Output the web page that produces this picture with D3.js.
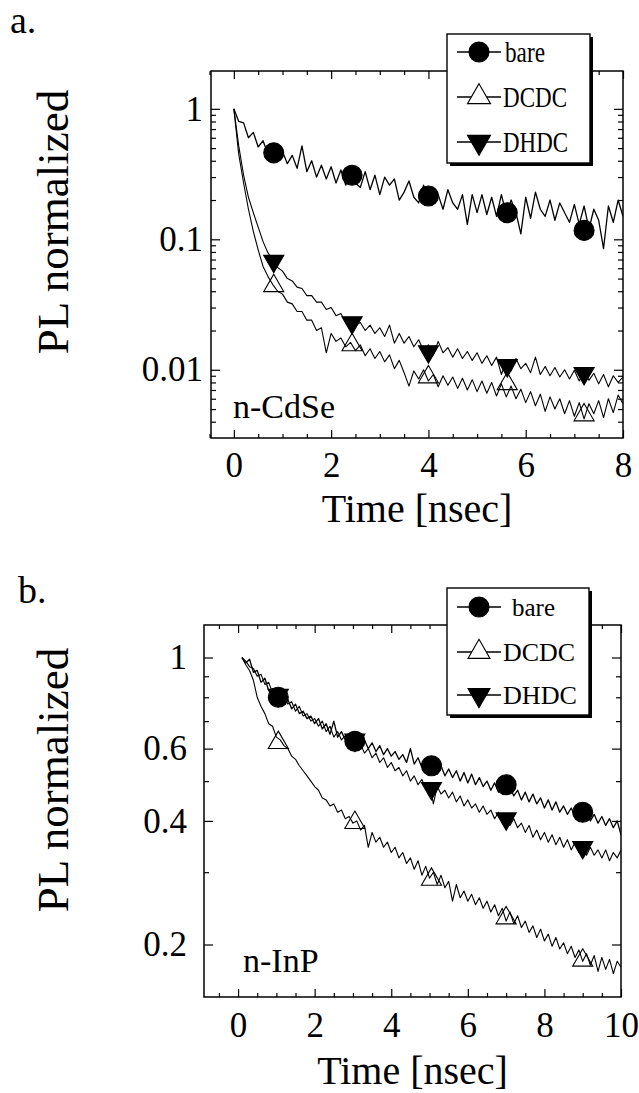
<!DOCTYPE html>
<html>
<head>
<meta charset="utf-8">
<script src="https://cdn.jsdelivr.net/npm/d3@7"></script>
<style>
  body { margin: 0; background: #fff; }
  svg text { font-family: "Liberation Serif", "Times New Roman", serif; fill: #000; }
</style>
</head>
<body>
<div id="chart"></div>
<script>
// ---- data ----
const seriesNames = ["bare", "DCDC", "DHDC"];

// panel a: n-CdSe, time in ns
const timeTop = [0,0.1,0.2,0.3,0.4,0.5,0.6,0.7,0.8,0.9,1,1.1,1.2,1.3,1.4,1.5,1.6,1.7,1.8,1.9,
  2,2.1,2.2,2.3,2.4,2.5,2.6,2.7,2.8,2.9,3,3.1,3.2,3.3,3.4,3.5,3.6,3.7,3.8,3.9,
  4,4.1,4.2,4.3,4.4,4.5,4.6,4.7,4.8,4.9,5,5.1,5.2,5.3,5.4,5.5,5.6,5.7,5.8,5.9,
  6,6.1,6.2,6.3,6.4,6.5,6.6,6.7,6.8,6.9,7,7.1,7.2,7.3,7.4,7.5,7.6,7.7,7.8,7.9,8];
const bareTop = [1.0,0.80,0.78,0.60,0.66,0.51,0.57,0.45,0.50,0.42,
  0.47,0.38,0.44,0.35,0.52,0.33,0.40,0.30,0.37,0.29,
  0.36,0.27,0.34,0.26,0.33,0.27,0.25,0.33,0.24,0.31,
  0.22,0.30,0.26,0.29,0.20,0.23,0.28,0.21,0.19,0.26,
  0.20,0.25,0.22,0.17,0.24,0.19,0.17,0.22,0.13,0.22,
  0.16,0.22,0.155,0.21,0.15,0.22,0.155,0.20,0.16,0.11,
  0.21,0.145,0.23,0.17,0.15,0.20,0.14,0.19,0.16,0.135,
  0.185,0.13,0.18,0.12,0.17,0.14,0.085,0.18,0.135,0.20,
  0.15];
const dcdcTop = [1.0,0.45,0.27,0.17,0.115,0.083,0.062,0.052,0.045,0.040,
  0.038,0.033,0.032,0.028,0.028,0.024,0.024,0.020,0.021,0.0135,
  0.019,0.0165,0.0175,0.0150,0.0162,0.0140,0.0155,0.0128,0.0145,0.0122,
  0.0138,0.0115,0.0130,0.0102,0.0118,0.0095,0.0075,0.0098,0.0085,0.0100,
  0.0082,0.0092,0.0074,0.0090,0.0076,0.0088,0.0072,0.0086,0.0070,0.0084,
  0.0068,0.0082,0.0066,0.0080,0.0063,0.0078,0.0062,0.0075,0.0060,0.0071,
  0.0056,0.0068,0.0053,0.0065,0.0048,0.0062,0.0050,0.0060,0.0046,0.0058,
  0.0044,0.0056,0.0042,0.0055,0.0046,0.0058,0.0043,0.0060,0.0047,0.0064,
  0.0055];
const dhdcTop = [1.0,0.52,0.31,0.21,0.16,0.124,0.096,0.079,0.069,0.061,
  0.057,0.050,0.048,0.043,0.042,0.037,0.037,0.033,0.033,0.029,
  0.030,0.026,0.027,0.023,0.024,0.022,0.023,0.020,0.022,0.019,
  0.021,0.018,0.022,0.016,0.019,0.016,0.018,0.015,0.017,0.014,
  0.0155,0.013,0.0165,0.0135,0.0148,0.0125,0.0145,0.0122,0.0138,0.0118,
  0.0135,0.0112,0.0128,0.0108,0.0125,0.0092,0.0118,0.0098,0.0122,0.0102,
  0.0112,0.0095,0.0125,0.0092,0.0106,0.0090,0.0104,0.0088,0.0100,0.0085,
  0.0099,0.0082,0.0098,0.0083,0.0094,0.0078,0.0092,0.0074,0.0090,0.0080,
  0.0088];
const markTimeTop = [0.82, 2.43, 4.0, 5.62, 7.2];
const bareMarkTop = [0.46, 0.31, 0.215, 0.16, 0.117];
const dcdcMarkTop = [0.044, 0.0155, 0.0088, 0.0078, 0.0045];
const dhdcMarkTop = [0.068, 0.023, 0.0138, 0.0108, 0.0094];

// panel b: n-InP
const timeBottom = [0.1,0.2,0.3,0.4,0.5,0.6,0.7,0.8,0.9,1,1.1,1.2,1.3,1.4,1.5,1.6,1.7,1.8,1.9,2,
  2.1,2.2,2.3,2.4,2.5,2.6,2.7,2.8,2.9,3,3.1,3.2,3.3,3.4,3.5,3.6,3.7,3.8,3.9,4,
  4.1,4.2,4.3,4.4,4.5,4.6,4.7,4.8,4.9,5,5.1,5.2,5.3,5.4,5.5,5.6,5.7,5.8,5.9,6,
  6.1,6.2,6.3,6.4,6.5,6.6,6.7,6.8,6.9,7,7.1,7.2,7.3,7.4,7.5,7.6,7.7,7.8,7.9,8,
  8.1,8.2,8.3,8.4,8.5,8.6,8.7,8.8,8.9,9,9.1,9.2,9.3,9.4,9.5,9.6,9.7,9.8,9.9,10];
const bareBottom = [1.0,0.97,0.99,0.92,0.93,0.87,0.89,0.83,0.84,0.80,
  0.82,0.78,0.79,0.75,0.77,0.73,0.74,0.71,0.72,0.69,
  0.71,0.67,0.69,0.65,0.70,0.64,0.66,0.63,0.65,0.62,
  0.64,0.61,0.63,0.60,0.62,0.59,0.61,0.58,0.60,0.575,
  0.59,0.565,0.58,0.555,0.60,0.55,0.57,0.54,0.56,0.535,
  0.55,0.52,0.545,0.515,0.535,0.51,0.53,0.50,0.525,0.495,
  0.52,0.49,0.51,0.485,0.50,0.475,0.495,0.47,0.49,0.465,
  0.485,0.46,0.475,0.45,0.47,0.445,0.465,0.44,0.455,0.43,
  0.45,0.425,0.445,0.42,0.435,0.415,0.43,0.41,0.425,0.405,
  0.42,0.40,0.415,0.395,0.41,0.39,0.405,0.385,0.40,0.37];
const dcdcBottom = [1.0,0.96,0.93,0.88,0.80,0.76,0.73,0.69,0.68,0.64,
  0.63,0.61,0.60,0.575,0.565,0.545,0.53,0.515,0.50,0.485,
  0.475,0.455,0.45,0.435,0.44,0.42,0.425,0.405,0.41,0.395,
  0.40,0.38,0.39,0.345,0.375,0.355,0.365,0.345,0.355,0.335,
  0.345,0.325,0.335,0.315,0.325,0.305,0.32,0.295,0.31,0.29,
  0.30,0.28,0.295,0.275,0.285,0.255,0.28,0.26,0.27,0.255,
  0.265,0.25,0.26,0.245,0.255,0.24,0.25,0.235,0.245,0.228,
  0.24,0.225,0.235,0.22,0.228,0.214,0.222,0.208,0.218,0.204,
  0.212,0.198,0.208,0.195,0.202,0.19,0.198,0.186,0.194,0.182,
  0.19,0.178,0.188,0.172,0.186,0.174,0.184,0.17,0.182,0.176];
const dhdcBottom = [1.0,0.98,0.95,0.94,0.90,0.91,0.86,0.87,0.82,0.84,
  0.80,0.81,0.77,0.78,0.74,0.76,0.72,0.73,0.70,0.71,
  0.68,0.70,0.66,0.68,0.64,0.66,0.63,0.645,0.61,0.63,
  0.60,0.615,0.585,0.60,0.57,0.585,0.555,0.57,0.54,0.555,
  0.53,0.54,0.515,0.53,0.50,0.515,0.49,0.505,0.48,0.495,
  0.44,0.485,0.465,0.475,0.455,0.47,0.445,0.46,0.435,0.45,
  0.43,0.44,0.42,0.435,0.415,0.425,0.405,0.42,0.40,0.41,
  0.39,0.405,0.385,0.395,0.375,0.39,0.365,0.38,0.36,0.375,
  0.355,0.37,0.35,0.365,0.345,0.36,0.34,0.355,0.335,0.35,
  0.33,0.345,0.33,0.34,0.325,0.34,0.32,0.335,0.325,0.34];
const markTimeBottom = [1.05, 3.05, 5.05, 7.0, 9.0];
const bareMarkBottom = [0.80, 0.625, 0.545, 0.49, 0.42];
const dcdcMarkBottom = [0.62, 0.396, 0.288, 0.232, 0.183];
const dhdcMarkBottom = [0.81, 0.63, 0.48, 0.405, 0.345];

// ticks
const xMajorTop = [0, 2, 4, 6, 8];
const xMinorTop = [-0.5, 0.5, 1, 1.5, 2.5, 3, 3.5, 4.5, 5, 5.5, 6.5, 7, 7.5];
const yMajorTop = [1, 0.1, 0.01];
const yLabelsTop = ["1", "0.1", "0.01"];
const yMinorTop = [0.004,0.005,0.006,0.007,0.008,0.009,0.02,0.03,0.04,0.05,0.06,0.07,0.08,0.09,0.2,0.3,0.4,0.5,0.6,0.7,0.8,0.9];
const xMajorBottom = [0, 2, 4, 6, 8, 10];
const xMinorBottom = [-0.5, 0.5, 1, 1.5, 2.5, 3, 3.5, 4.5, 5, 5.5, 6.5, 7, 7.5, 8.5, 9, 9.5];
const yMajorBottom = [1, 0.6, 0.4, 0.2];
const yLabelsBottom = ["1", "0.6", "0.4", "0.2"];
const yMinorBottom = [0.3, 0.5, 0.7, 0.8, 0.9];

// ---- chart ----
const W = 639, H = 1093;
const svg = d3.select("#chart").append("svg").attr("width", W).attr("height", H);

const panels = [
  {
    id: "a", letter: "a.", letterPos: [10, 33], sample: "n-CdSe", samplePos: [233, 418],
    left: 211, right: 623, top: 71, bottom: 438,
    xDomain: [-0.47, 8], yDomain: [0.003, 1.95],
    time: timeTop, series: [bareTop, dcdcTop, dhdcTop],
    markTime: markTimeTop, marks: [bareMarkTop, dcdcMarkTop, dhdcMarkTop],
    xMajor: xMajorTop, xMinor: xMinorTop, yMajor: yMajorTop, yLabels: yLabelsTop, yMinor: yMinorTop,
    xPad: 14, yPad: 8, yTitleY: 222, xTitleY: 522,
    legend: { x: 447, y: 34, w: 143, h: 129, rows: [52, 97, 142], font: 29,
              textX: [505, 503, 503], textW: [40, 64, 65], symX: 479, triSize: 230 }
  },
  {
    id: "b", letter: "b.", letterPos: [18, 603], sample: "n-InP", samplePos: [243, 972],
    left: 204, right: 621, top: 625, bottom: 997,
    xDomain: [-0.89, 10], yDomain: [0.149, 1.2],
    time: timeBottom, series: [bareBottom, dcdcBottom, dhdcBottom],
    markTime: markTimeBottom, marks: [bareMarkBottom, dcdcMarkBottom, dhdcMarkBottom],
    xMajor: xMajorBottom, xMinor: xMinorBottom, yMajor: yMajorBottom, yLabels: yLabelsBottom, yMinor: yMinorBottom,
    xPad: 15, yPad: 17, yTitleY: 780, xTitleY: 1084,
    legend: { x: 447, y: 588, w: 142, h: 127, rows: [607, 652, 695], font: 26,
              textX: [512, 503, 503], textW: [43, 72, 74], symX: 479, triSize: 210 }
  }
];

const symCircle = d3.symbol().type(d3.symbolCircle).size(314);
const symTri = d3.symbol().type(d3.symbolTriangle).size(175);

function styleAxis(g) {
  g.select(".domain").remove();
  g.attr("font-family", null).attr("font-size", null);
  g.selectAll(".tick line").attr("stroke", "#000").attr("stroke-width", 1.2);
  g.selectAll(".tick text").style("font-size", "35px");
}

panels.forEach(p => {
  const x = d3.scaleLinear().domain(p.xDomain).range([p.left, p.right]);
  const y = d3.scaleLog().domain(p.yDomain).range([p.bottom, p.top]);
  const g = svg.append("g");

  g.append("clipPath").attr("id", "clip-" + p.id)
    .append("rect").attr("x", p.left).attr("y", p.top)
    .attr("width", p.right - p.left).attr("height", p.bottom - p.top);

  const line = d3.line().x(d => x(d[0])).y(d => y(d[1]));
  const plot = g.append("g").attr("clip-path", `url(#clip-${p.id})`);

  // traces
  p.series.forEach((vals, k) => {
    plot.append("path")
      .datum(vals.map((v, i) => [p.time[i], v]))
      .attr("d", line)
      .attr("fill", "none")
      .attr("stroke", "#000")
      .attr("stroke-width", k === 0 ? 1.3 : 1.1)
      .attr("stroke-linejoin", "round");
  });

  // markers: DHDC, DCDC, then bare on top
  [2, 1, 0].forEach(k => {
    plot.selectAll(".m" + k)
      .data(p.marks[k].map((v, i) => [p.markTime[i], v]))
      .enter().append("path")
      .attr("transform", d => `translate(${x(d[0])},${y(d[1])})` + (k === 2 ? " rotate(180)" : ""))
      .attr("d", k === 0 ? symCircle() : symTri())
      .attr("fill", k === 1 ? "none" : "#000")
      .attr("stroke", "#000")
      .attr("stroke-width", 1.1);
  });

  // axes
  g.append("g").attr("transform", `translate(0,${p.bottom})`)
    .call(d3.axisBottom(x).tickValues(p.xMajor).tickSize(-8).tickPadding(p.xPad).tickFormat(d3.format("d")))
    .call(styleAxis);
  g.append("g").attr("transform", `translate(0,${p.bottom})`)
    .call(d3.axisBottom(x).tickValues(p.xMinor).tickSize(-4).tickFormat(""))
    .call(styleAxis);
  g.append("g").attr("transform", `translate(0,${p.top})`)
    .call(d3.axisTop(x).tickValues(p.xMajor).tickSize(-8).tickFormat(""))
    .call(styleAxis);
  g.append("g").attr("transform", `translate(0,${p.top})`)
    .call(d3.axisTop(x).tickValues(p.xMinor).tickSize(-4).tickFormat(""))
    .call(styleAxis);
  g.append("g").attr("transform", `translate(${p.left},0)`)
    .call(d3.axisLeft(y).tickValues(p.yMajor).tickSize(-9).tickPadding(p.yPad)
      .tickFormat((d, i) => p.yLabels[i]))
    .call(styleAxis);
  g.append("g").attr("transform", `translate(${p.left},0)`)
    .call(d3.axisLeft(y).tickValues(p.yMinor).tickSize(-5).tickFormat(""))
    .call(styleAxis);
  g.append("g").attr("transform", `translate(${p.right},0)`)
    .call(d3.axisRight(y).tickValues(p.yMajor).tickSize(-9).tickFormat(""))
    .call(styleAxis);
  g.append("g").attr("transform", `translate(${p.right},0)`)
    .call(d3.axisRight(y).tickValues(p.yMinor).tickSize(-5).tickFormat(""))
    .call(styleAxis);

  // frame
  g.append("rect")
    .attr("x", p.left).attr("y", p.top)
    .attr("width", p.right - p.left).attr("height", p.bottom - p.top)
    .attr("fill", "none").attr("stroke", "#000").attr("stroke-width", 1.5);

  // legend
  const L = p.legend;
  const leg = g.append("g");
  leg.append("rect").attr("x", L.x + 3).attr("y", L.y + 3).attr("width", L.w).attr("height", L.h).attr("fill", "#000");
  leg.append("rect").attr("x", L.x).attr("y", L.y).attr("width", L.w).attr("height", L.h)
    .attr("fill", "#fff").attr("stroke", "#000").attr("stroke-width", 1.4);
  seriesNames.forEach((name, k) => {
    const ry = L.rows[k];
    leg.append("line").attr("x1", L.symX - 22).attr("x2", L.symX + 22)
      .attr("y1", ry).attr("y2", ry).attr("stroke", "#000").attr("stroke-width", 1.3);
    leg.append("path")
      .attr("transform", `translate(${L.symX},${ry})` + (k === 2 ? " rotate(180)" : ""))
      .attr("d", k === 0 ? symCircle() : d3.symbol().type(d3.symbolTriangle).size(L.triSize)())
      .attr("fill", k === 1 ? "#fff" : "#000")
      .attr("stroke", "#000").attr("stroke-width", 1.1);
    leg.append("text").attr("x", L.textX[k]).attr("y", ry).attr("dy", "0.35em")
      .attr("textLength", L.textW[k]).attr("lengthAdjust", "spacingAndGlyphs")
      .style("font-size", L.font + "px").text(name);
  });

  // labels
  g.append("text").attr("x", p.letterPos[0]).attr("y", p.letterPos[1])
    .style("font-size", "38px").text(p.letter);
  g.append("text").attr("x", p.samplePos[0]).attr("y", p.samplePos[1])
    .style("font-size", "34px").text(p.sample);
  g.append("text").attr("x", (p.left + p.right) / 2).attr("y", p.xTitleY)
    .attr("text-anchor", "middle").style("font-size", "40px").text("Time [nsec]");
  g.append("text").attr("transform", `translate(68,${p.yTitleY}) rotate(-90)`)
    .attr("text-anchor", "middle").style("font-size", "45px").text("PL normalized");
});
</script>
</body>
</html>
